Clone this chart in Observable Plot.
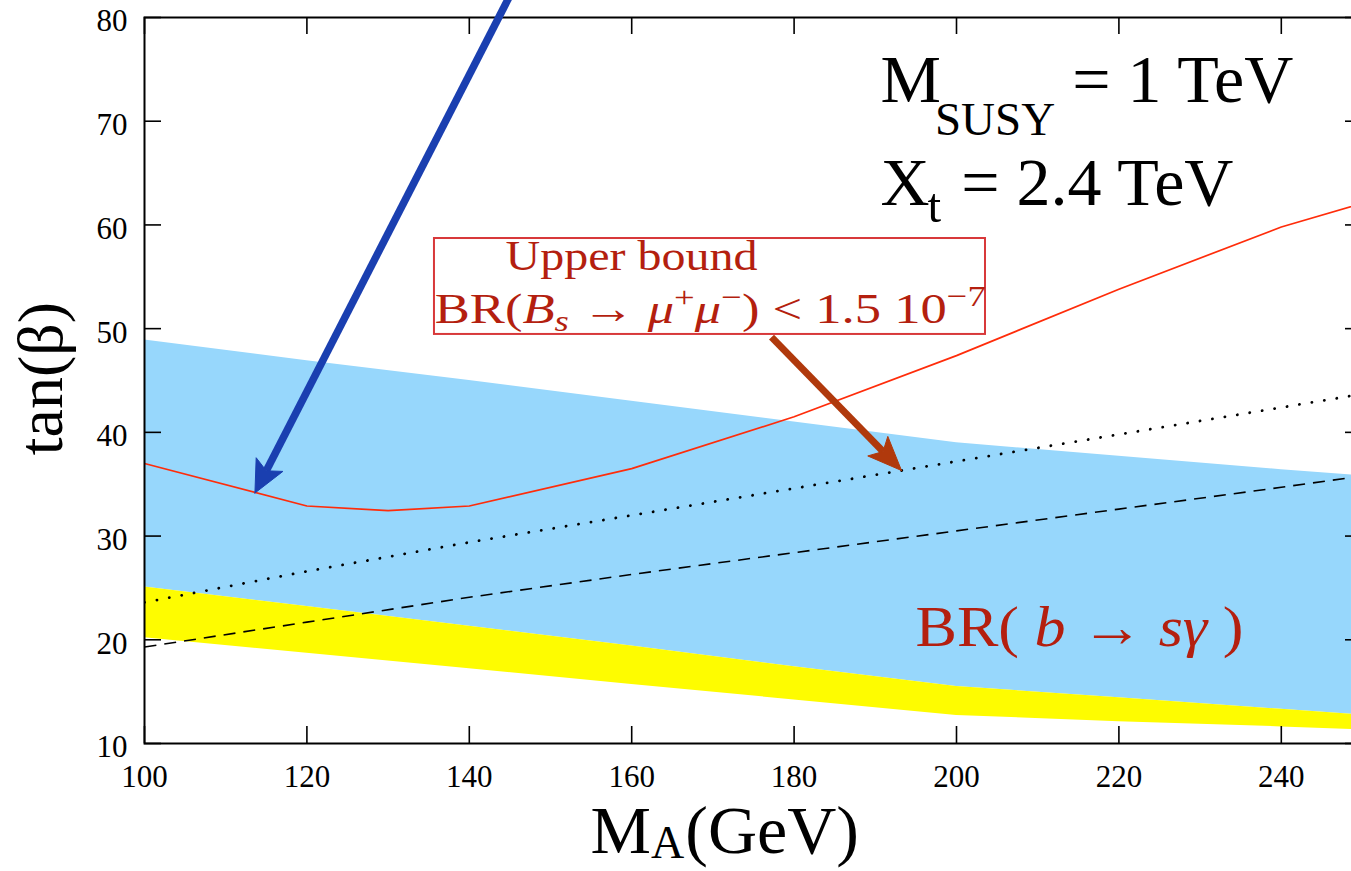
<!DOCTYPE html>
<html><head><meta charset="utf-8">
<script src="https://cdn.jsdelivr.net/npm/d3@7"></script>
<script src="https://cdn.jsdelivr.net/npm/@observablehq/plot@0.6"></script>
<style>
html,body{margin:0;padding:0;background:#fff;overflow:hidden;}
#chart{width:1351px;height:871px;overflow:hidden;position:relative;}
#chart svg{max-width:none !important;}
</style></head><body><div id="chart"></div>
<script>
// ---- data ----
const mA          = [100, 120, 140, 160, 180, 200, 220, 240, 250];
const bsgUpper    = [48.9, 46.9, 45.0, 43.0, 41.0, 39.0, 37.7, 36.4, 35.8];   // top of blue band
const bsgLower    = [25.1, 23.2, 21.3, 19.4, 17.4, 15.5, 14.4, 13.3, 12.75];  // blue bottom / yellow top
const yellowLower = [20.2, 18.7, 17.2, 15.7, 14.2, 12.7, 12.1, 11.6, 11.3];   // yellow bottom
const dottedCurve = [23.6, 26.6, 29.4, 32.0, 34.6, 37.2, 39.8, 42.4, 43.7];
const dashedCurve = [19.3, 21.7, 24.1, 26.3, 28.4, 30.5, 32.6, 34.7, 35.8];
const boundMA     = [100, 120, 130, 140, 160, 180, 200, 220, 240, 250];
const boundTanB   = [37.0, 32.9, 32.45, 32.9, 36.5, 41.5, 47.4, 53.8, 59.8, 62.1];
const xTicks = [100, 120, 140, 160, 180, 200, 220, 240];
const yTicks = [10, 20, 30, 40, 50, 60, 70, 80];

// ---- annotation anchors (data units) ----
const blueArrow  = {x1: 145.32, y1: 82.6, x2: 113.6, y2: 34.15};
const brownArrow = {x1: 177.22, y1: 49.18, x2: 193.23, y2: 36.32};
const boxBounds  = {x1: 135.71, x2: 203.57, y1: 49.44, y2: 58.69};

// ---- layout ----
const W = 1362, H = 871, ML = 144, MR = 0, MT = 17, MB = 128;
const xDom = [100, 250], yDom = [10, 80];
const kx = (W - ML - MR) / (xDom[1] - xDom[0]);
const ky = (H - MT - MB) / (yDom[1] - yDom[0]);
const tick = 17;

const band = mA.map((m, i) => ({m, up: bsgUpper[i], lo: bsgLower[i], ylo: yellowLower[i], dot: dottedCurve[i], dash: dashedCurve[i]}));
const bound = boundMA.map((m, i) => ({m, t: boundTanB[i]}));

function arrowParts(a, L, Wd) {
  const dxp = (a.x1 - a.x2) * kx, dyp = -(a.y1 - a.y2) * ky;
  const len = Math.hypot(dxp, dyp), ux = dxp / len, uy = dyp / len;
  const px = -uy, py = ux;
  const toData = (ox, oy) => ({x: a.x2 + ox / kx, y: a.y2 - oy / ky});
  const notch = toData(ux * L * 0.78, uy * L * 0.78);
  const head = [toData(0, 0), toData(ux * L + px * Wd, uy * L + py * Wd), notch,
                toData(ux * L - px * Wd, uy * L - py * Wd), toData(0, 0)];
  return {shaft: [{x1: a.x1, y1: a.y1, x2: notch.x, y2: notch.y}], head};
}
const bA = arrowParts(blueArrow, 32, 15);
const rA = arrowParts(brownArrow, 34, 14);

const red = "#b41f0f";
const texts = [
  {k: "susy", x: 190.64, y: 71.81, s: "MSUSY = 1 TeV", size: 68, fill: "black", anchor: "start"},
  {k: "xt", x: 190.64, y: 61.95, s: "Xt = 2.4 TeV", size: 68, fill: "black", anchor: "start"},
  {k: "ub", x: 159.98, y: 55.61, s: "Upper bound", size: 43, fill: red, anchor: "middle"},
  {k: "bs", x: 135.75, y: 50.5, s: "BR(Bs → μ+μ−) < 1.5 10−7", size: 43, fill: red, anchor: "start"},
  {k: "bsg", x: 194.95, y: 19.38, s: "BR( b → sγ )", size: 57, fill: red, anchor: "start"},
  {k: "ma", x: 154.93, y: -0.51, s: "MA (GeV)", size: 68, fill: "black", anchor: "start"}
];
const rich = {
  susy: `M<tspan font-size="47" dx="-6" dy="33">SUSY</tspan><tspan dy="-33"> = 1 TeV</tspan>`,
  xt: `X<tspan font-size="49" dx="-2" dy="17">t</tspan><tspan dy="-17" dx="3"> = 2.4 TeV</tspan>`,
  bs: `BR(<tspan font-style="italic">B</tspan><tspan font-style="italic" font-size="30" dy="8">s</tspan><tspan dy="-8"> → </tspan><tspan font-style="italic">μ</tspan><tspan font-size="30" dy="-16">+</tspan><tspan font-style="italic" dy="16">μ</tspan><tspan font-size="30" dy="-16">−</tspan><tspan dy="16">) &lt; 1.5 10</tspan><tspan font-size="30" dy="-17">−7</tspan>`,
  bsg: `BR( <tspan font-style="italic">b</tspan> → <tspan font-style="italic">sγ</tspan> )`,
  ma: `M<tspan font-size="46" dy="5">A</tspan><tspan dy="-5" dx="1">(GeV)</tspan>`
};
const widths = {ub: 252, bs: 551, bsg: 328};

const plot = Plot.plot({
  width: W, height: H,
  marginLeft: ML, marginRight: MR, marginTop: MT, marginBottom: MB,
  x: {domain: xDom, axis: null},
  y: {domain: yDom, axis: null},
  style: {fontFamily: "Liberation Serif", background: "white", maxWidth: "none", overflow: "visible"},
  marks: [
    Plot.areaY(band, {x: "m", y1: "lo", y2: "up", fill: "#97d7fc", clip: true}),
    Plot.areaY(band, {x: "m", y1: "ylo", y2: "lo", fill: "#fefc00", clip: true}),
    Plot.line(band, {x: "m", y: "dot", stroke: "black", strokeWidth: 2.8, strokeDasharray: "0.1,12.5", strokeLinecap: "round", clip: true}),
    Plot.line(band, {x: "m", y: "dash", stroke: "black", strokeWidth: 1.6, strokeDasharray: "12,8", strokeLinecap: "butt", clip: true}),
    Plot.line(bound, {x: "m", y: "t", stroke: "#ff2c0a", strokeWidth: 1.7, clip: true}),
    Plot.frame({stroke: "black", strokeWidth: 2}),
    Plot.ruleX(xTicks, {x: d => d, y1: yDom[0], y2: yDom[0] + tick / ky, stroke: "black", strokeWidth: 1.6}),
    Plot.ruleX(xTicks, {x: d => d, y1: yDom[1], y2: yDom[1] - tick / ky, stroke: "black", strokeWidth: 1.6}),
    Plot.ruleY(yTicks, {y: d => d, x1: xDom[0], x2: xDom[0] + tick / kx, stroke: "black", strokeWidth: 1.6}),
    Plot.ruleY(yTicks, {y: d => d, x1: xDom[1] - tick / kx, x2: xDom[1], stroke: "black", strokeWidth: 1.6}),
    Plot.axisX(xTicks, {anchor: "bottom", tickSize: 0, tickPadding: 21, fontSize: 31, label: null, tickFormat: d => String(d)}),
    Plot.axisY(yTicks, {anchor: "left", tickSize: 0, tickPadding: 17, fontSize: 31, dy: 4, label: null, tickFormat: d => String(d)}),
    Plot.rect([boxBounds], {x1: "x1", x2: "x2", y1: "y1", y2: "y2", fill: "none", stroke: "#d8383a", strokeWidth: 2}),
    Plot.link(bA.shaft, {x1: "x1", y1: "y1", x2: "x2", y2: "y2", stroke: "#1a3fb0", strokeWidth: 7.5}),
    Plot.line(bA.head, {x: "x", y: "y", fill: "#1a3fb0", stroke: "#1a3fb0", strokeWidth: 1}),
    Plot.link(rA.shaft, {x1: "x1", y1: "y1", x2: "x2", y2: "y2", stroke: "#b0390c", strokeWidth: 7}),
    Plot.line(rA.head, {x: "x", y: "y", fill: "#b0390c", stroke: "#b0390c", strokeWidth: 1}),
    ...texts.map(t => Plot.text([t], {x: "x", y: "y", text: "s", fontSize: t.size, fill: t.fill, textAnchor: t.anchor, lineAnchor: "bottom"})),
    Plot.text(["tan(β)"], {x: 89.9, y: 45.19, text: d => d, rotate: -90, fontSize: 64, textAnchor: "middle", lineAnchor: "bottom", fill: "black"})
  ]
});

plot.querySelectorAll("text").forEach(el => {
  const t = texts.find(d => d.s === el.textContent);
  if (!t) return;
  if (rich[t.k]) el.innerHTML = rich[t.k];
  if (widths[t.k]) { el.setAttribute("textLength", widths[t.k]); el.setAttribute("lengthAdjust", "spacingAndGlyphs"); }
});
document.getElementById("chart").appendChild(plot);
</script></body></html>
